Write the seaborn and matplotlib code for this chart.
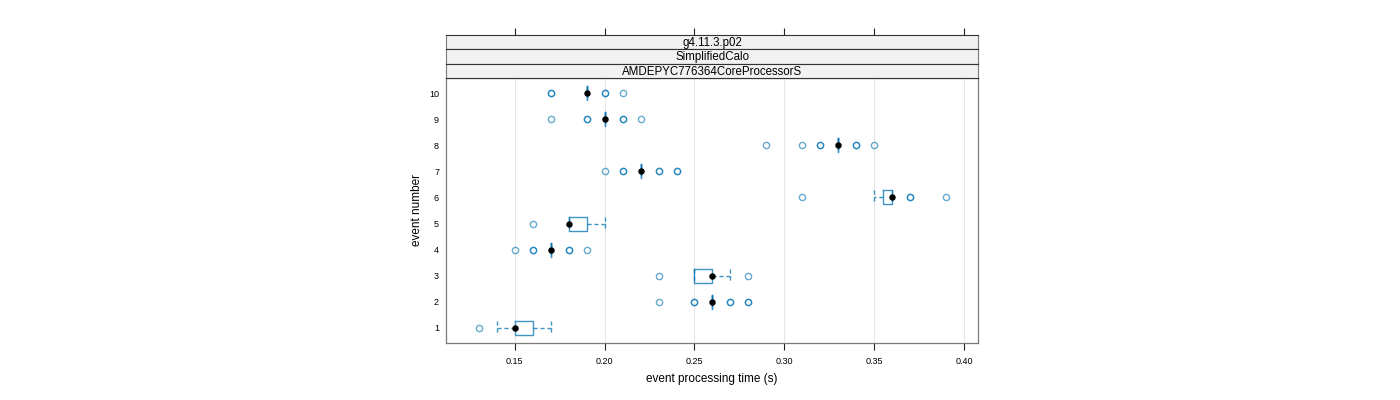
import numpy as np
import pandas as pd
import matplotlib
matplotlib.use("Agg")
import matplotlib.pyplot as plt
import seaborn as sns

# event processing time samples (s), one list per event
times_e1 = [0.13, 0.14, 0.15, 0.15, 0.15, 0.15, 0.16, 0.16, 0.17]
times_e2 = [0.23, 0.25, 0.25, 0.26, 0.26, 0.26, 0.26, 0.26, 0.26, 0.26, 0.26, 0.26, 0.26, 0.27, 0.27, 0.28, 0.28]
times_e3 = [0.23, 0.25, 0.25, 0.26, 0.26, 0.26, 0.26, 0.27, 0.28]
times_e4 = [0.15, 0.16, 0.16, 0.17, 0.17, 0.17, 0.17, 0.17, 0.17, 0.17, 0.17, 0.17, 0.17, 0.18, 0.18, 0.19]
times_e5 = [0.16, 0.18, 0.18, 0.18, 0.18, 0.19, 0.19, 0.20]
times_e6 = [0.31, 0.35, 0.35, 0.35, 0.36, 0.36, 0.36, 0.36, 0.36, 0.36, 0.36, 0.36, 0.37, 0.37, 0.39]
times_e7 = [0.20, 0.21, 0.21, 0.22, 0.22, 0.22, 0.22, 0.22, 0.22, 0.22, 0.22, 0.22, 0.22, 0.23, 0.23, 0.24, 0.24]
times_e8 = [0.29, 0.31, 0.32, 0.32, 0.33, 0.33, 0.33, 0.33, 0.33, 0.33, 0.33, 0.33, 0.33, 0.33, 0.34, 0.34, 0.35]
times_e9 = [0.17, 0.19, 0.19, 0.20, 0.20, 0.20, 0.20, 0.20, 0.20, 0.20, 0.20, 0.20, 0.20, 0.21, 0.21, 0.22]
times_e10 = [0.17, 0.17, 0.19, 0.19, 0.19, 0.19, 0.19, 0.19, 0.19, 0.19, 0.19, 0.19, 0.20, 0.20, 0.21]

strip_labels = ["g4.11.3.p02", "SimplifiedCalo", "AMDEPYC776364CoreProcessorS"]
x_ticks = [0.15, 0.20, 0.25, 0.30, 0.35, 0.40]

all_times = [times_e1, times_e2, times_e3, times_e4, times_e5,
             times_e6, times_e7, times_e8, times_e9, times_e10]
rows = []
for i, t in enumerate(all_times):
    for v in t:
        rows.append({"event": str(i + 1), "time": v})
df = pd.DataFrame(rows)
order = [str(i) for i in range(10, 0, -1)]

plt.rcParams['font.family'] = ['Liberation Sans', 'DejaVu Sans']

W, H = 1400, 400
fig = plt.figure(figsize=(14, 4), dpi=100)
left, right, top, bottom = 446, 978, 78, 343
ax = fig.add_axes([left / W, (H - bottom) / H, (right - left) / W, (bottom - top) / H])

blue = "#0072B2"
sns.boxplot(data=df, x="time", y="event", order=order, ax=ax,
            fill=False, color=blue, width=0.54, linewidth=1.0, whis=1.5,
            capwidths=0.54,
            boxprops=dict(alpha=0.75),
            whiskerprops=dict(linestyle=(0, (3, 2)), alpha=0.75),
            capprops=dict(linestyle=(0, (3, 2)), alpha=0.75),
            medianprops=dict(visible=False),
            flierprops=dict(marker="o", markersize=4.5, markerfacecolor="none",
                            markeredgecolor=blue, markeredgewidth=1.0, alpha=0.6))
sns.pointplot(data=df, x="time", y="event", order=order, ax=ax,
              estimator="median", errorbar=None, color="black",
              linestyle="none", markers="o", markersize=2.6, zorder=5)

ax.set_xlim(0.1117, 0.4078)
ax.set_ylim(9.575, -0.575)
ax.set_xticks(x_ticks)
ax.set_xticklabels([f"{t:.2f}" for t in x_ticks])
ax.grid(axis="x", color="#e6e6e6", linewidth=0.8)
ax.grid(axis="y", visible=False)
ax.set_axisbelow(True)
ax.tick_params(axis="x", direction="out", length=5, width=0.8, color="#222222",
               labelsize=6.5, pad=5)
ax.tick_params(axis="y", length=0, labelsize=6.5, pad=5)
for s in ax.spines.values():
    s.set_color("#7a7a7a")
    s.set_linewidth(0.9)
ax.set_xlabel("event processing time (s)", fontsize=8.5, labelpad=5)
ax.set_ylabel("event number", fontsize=8.5, labelpad=4)

# strips above the panel, first label on top
strip_top = 35
strip_h = (top - strip_top) / 3
for k, lab in enumerate(strip_labels):
    y0 = strip_top + k * strip_h
    sax = fig.add_axes([left / W, (H - y0 - strip_h) / H, (right - left) / W, strip_h / H])
    sax.set_facecolor("#f2f2f2")
    sax.set_xlim(ax.get_xlim())
    sax.set_ylim(0, 1)
    sax.set_yticks([])
    if k == 0:
        sax.set_xticks(x_ticks)
        sax.tick_params(axis="x", top=True, bottom=False, labeltop=False,
                        labelbottom=False, direction="out", length=5,
                        width=0.8, color="#222222")
    else:
        sax.set_xticks([])
    for s in sax.spines.values():
        s.set_color("#333333")
        s.set_linewidth(0.8)
    sax.spines["left"].set_color("#7a7a7a")
    sax.spines["right"].set_color("#7a7a7a")
    sax.text(0.5, 0.45, lab, transform=sax.transAxes, ha="center", va="center",
             fontsize=8.3)

fig.savefig("out.png", dpi=100)
